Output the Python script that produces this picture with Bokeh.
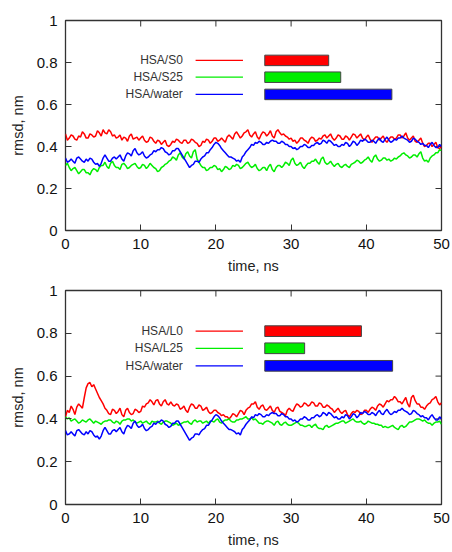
import math
from bokeh.plotting import figure
from bokeh.layouts import column
from bokeh.models import Range1d, FixedTicker, CustomJSTickFormatter
from bokeh.embed import file_html
from bokeh.resources import INLINE
from bokeh.core.properties import value

# ---------------- data (rmsd in nm, sampled every 0.25 ns) ----------------
time_step_ns = 0.25

rmsd_S0 = [
    .46, .43, .44, .455, .45, .435, .43, .45, .445, .47, .46, .44, .44, .46, .455, .445, .45, .475, .465, .45,
    .48, .465, .46, .48, .47, .45, .455, .44, .445, .455, .43, .445, .44, .425, .45, .46, .435, .44, .445, .43,
    .44, .45, .43, .42, .425, .445, .44, .425, .415, .43, .425, .41, .42, .43, .405, .40, .41, .425, .42, .435,
    .43, .42, .415, .43, .43, .415, .42, .435, .43, .42, .415, .40, .405, .425, .42, .435, .43, .415, .425, .44,
    .44, .425, .43, .44, .43, .42, .445, .455, .445, .435, .46, .47, .455, .44, .45, .465, .47, .48, .455, .445,
    .46, .47, .445, .435, .455, .47, .465, .45, .46, .475, .45, .44, .47, .48, .465, .455, .46, .45, .445, .435,
    .44, .425, .43, .415, .425, .44, .44, .43, .425, .415, .435, .445, .44, .425, .43, .44, .435, .45, .455, .44,
    .45, .46, .44, .43, .44, .455, .45, .435, .435, .45, .445, .43, .445, .46, .455, .44, .45, .46, .44, .43,
    .445, .455, .435, .42, .435, .445, .445, .43, .44, .45, .43, .42, .435, .445, .445, .435, .44, .455, .455, .44,
    .45, .465, .44, .43, .44, .45, .425, .42, .43, .44, .415, .40, .405, .415, .415, .40, .41, .42, .395, .39,
    .40]

rmsd_S25 = [
    .31, .32, .30, .285, .295, .30, .285, .27, .28, .29, .29, .275, .275, .265, .285, .295, .29, .28, .30, .31,
    .31, .325, .305, .295, .32, .33, .31, .30, .30, .29, .315, .32, .31, .295, .30, .31, .315, .32, .305, .295,
    .30, .315, .31, .295, .305, .32, .31, .30, .295, .28, .285, .30, .305, .315, .32, .33, .335, .35, .345, .335,
    .36, .37, .35, .34, .365, .375, .355, .345, .375, .385, .34, .325, .31, .30, .30, .285, .29, .30, .30, .31,
    .305, .29, .295, .28, .29, .305, .30, .29, .295, .31, .305, .315, .31, .295, .30, .31, .32, .325, .31, .30,
    .305, .315, .295, .285, .29, .30, .30, .285, .305, .315, .29, .28, .30, .31, .31, .30, .31, .325, .32, .31,
    .335, .345, .32, .31, .315, .325, .305, .295, .31, .32, .32, .33, .33, .34, .325, .315, .34, .35, .325, .315,
    .32, .33, .315, .305, .315, .32, .305, .30, .31, .315, .305, .30, .315, .32, .325, .335, .33, .32, .325, .335,
    .34, .35, .335, .325, .35, .36, .34, .33, .335, .345, .345, .335, .34, .33, .335, .345, .34, .35, .355, .365,
    .37, .36, .355, .345, .35, .36, .36, .35, .365, .375, .345, .33, .335, .325, .345, .355, .36, .37, .37, .385,
    .38]

rmsd_water = [
    .345, .325, .33, .34, .33, .32, .345, .35, .34, .33, .325, .34, .33, .345, .34, .325, .315, .32, .305, .32,
    .345, .36, .345, .33, .33, .345, .35, .34, .35, .36, .34, .33, .355, .37, .365, .355, .38, .39, .37, .36,
    .365, .375, .355, .345, .35, .36, .365, .38, .375, .385, .385, .395, .39, .375, .37, .36, .365, .38, .38, .39,
    .39, .375, .36, .345, .33, .315, .30, .31, .315, .33, .33, .325, .34, .35, .355, .37, .37, .385, .395, .41,
    .42, .415, .405, .39, .38, .37, .36, .35, .35, .345, .34, .33, .335, .325, .35, .36, .375, .385, .395, .41,
    .405, .42, .415, .425, .42, .41, .41, .42, .415, .425, .43, .425, .425, .415, .415, .425, .42, .41, .41, .40,
    .40, .39, .395, .385, .39, .40, .40, .41, .405, .395, .395, .405, .405, .415, .42, .41, .415, .43, .425, .415,
    .43, .425, .415, .405, .41, .40, .40, .41, .405, .42, .415, .40, .41, .425, .42, .405, .415, .43, .425, .435,
    .43, .42, .42, .43, .425, .415, .43, .44, .425, .42, .435, .445, .43, .42, .425, .435, .43, .44, .44, .45,
    .44, .435, .43, .42, .425, .44, .435, .425, .42, .41, .415, .405, .405, .395, .41, .42, .405, .395, .395, .41,
    .40]

rmsd_L0 = [
    .41, .44, .43, .46, .445, .42, .455, .47, .46, .45, .50, .545, .565, .57, .55, .56, .54, .52, .50, .485,
    .47, .45, .44, .425, .42, .445, .44, .425, .435, .45, .42, .41, .44, .45, .43, .42, .425, .445, .44, .43,
    .435, .46, .455, .47, .475, .49, .48, .465, .485, .49, .47, .46, .48, .49, .47, .465, .48, .465, .46, .47,
    .465, .445, .45, .46, .44, .43, .455, .47, .465, .45, .45, .465, .46, .44, .445, .455, .435, .425, .43, .44,
    .44, .43, .425, .415, .42, .41, .41, .40, .41, .425, .42, .41, .425, .44, .435, .42, .44, .45, .455, .47,
    .47, .48, .455, .445, .46, .465, .445, .44, .45, .46, .44, .43, .45, .455, .435, .43, .425, .415, .44, .45,
    .44, .435, .455, .47, .465, .455, .46, .475, .47, .46, .465, .48, .475, .46, .46, .475, .47, .455, .455, .465,
    .46, .45, .445, .43, .44, .45, .435, .425, .435, .44, .42, .41, .425, .435, .43, .44, .435, .42, .425, .44,
    .44, .43, .445, .455, .45, .44, .46, .47, .465, .455, .47, .485, .48, .49, .49, .505, .495, .48, .48, .47,
    .485, .50, .47, .455, .50, .51, .485, .47, .47, .455, .455, .445, .46, .47, .475, .49, .495, .505, .48, .465,
    .475]

rmsd_L25 = [
    .41, .40, .405, .39, .395, .40, .39, .38, .385, .395, .39, .385, .395, .40, .39, .38, .39, .385, .38, .375,
    .385, .39, .39, .395, .395, .385, .38, .39, .385, .375, .39, .395, .395, .40, .40, .39, .395, .385, .38, .385,
    .39, .38, .385, .39, .38, .375, .39, .385, .385, .39, .38, .375, .385, .39, .39, .385, .38, .37, .375, .38,
    .37, .375, .38, .385, .385, .39, .38, .375, .39, .395, .385, .39, .39, .38, .385, .39, .38, .39, .39, .385,
    .395, .40, .385, .38, .39, .395, .395, .40, .39, .385, .385, .395, .395, .40, .40, .405, .41, .40, .40, .405,
    .395, .40, .39, .38, .38, .375, .385, .39, .39, .385, .38, .37, .385, .39, .375, .37, .38, .385, .375, .37,
    .37, .375, .38, .385, .38, .37, .37, .365, .365, .37, .37, .36, .37, .375, .36, .355, .355, .35, .365, .37,
    .36, .365, .37, .375, .38, .38, .385, .39, .39, .38, .385, .39, .395, .40, .39, .385, .385, .39, .38, .375,
    .38, .39, .385, .38, .38, .375, .375, .37, .37, .36, .365, .36, .36, .365, .37, .36, .355, .35, .365, .37,
    .36, .365, .375, .385, .385, .39, .395, .40, .40, .395, .39, .395, .385, .38, .38, .37, .38, .385, .385, .39,
    .375]

panel1_labels = ["HSA/S0", "HSA/S25", "HSA/water"]
panel1_bar_ends = [35.0, 36.6, 43.4]
panel2_labels = ["HSA/L0", "HSA/L25", "HSA/water"]
panel2_bar_ends = [39.35, 31.8, 43.5]
series_colors = ["#ff0000", "#00ee00", "#0000ff"]
x_ticks = [0, 10, 20, 30, 40, 50]
y_ticks = [0, 0.2, 0.4, 0.6, 0.8, 1]
x_title = "time, ns"
y_title = "rmsd, nm"

# ---------------- layout / style constants ----------------
FONT = "Liberation Sans"
LEG_ROWS = [0.81, 0.73, 0.648]
LEG_TEXT_X = 15.6
LEG_LINE_X = (17.3, 23.6)
BAR_START = 26.5
BAR_HALF = 0.025
FRAME_COLOR = "#333333"


def make_panel(series_list, labels, bar_ends, height, border_top, border_bottom):
    p = figure(width=450, height=height, x_range=Range1d(0, 50), y_range=Range1d(0, 1),
               output_backend="svg", toolbar_location=None,
               min_border_left=65, min_border_right=9,
               min_border_top=border_top, min_border_bottom=border_bottom)
    p.xgrid.visible = False
    p.ygrid.visible = False
    p.outline_line_color = FRAME_COLOR
    p.outline_line_width = 1.3
    p.background_fill_color = "white"
    p.border_fill_color = "white"

    fmt = CustomJSTickFormatter(code="return String(Math.round(tick*10)/10);")
    for ax in (p.xaxis[0], p.yaxis[0]):
        ax.axis_line_color = None
        ax.major_tick_in = 6
        ax.major_tick_out = 0
        ax.major_tick_line_color = FRAME_COLOR
        ax.minor_tick_line_color = None
        ax.major_label_text_font = FONT
        ax.major_label_text_font_size = "15px"
        ax.major_label_text_color = "#111111"
        ax.major_label_standoff = 8
        ax.axis_label_text_font = FONT
        ax.axis_label_text_font_size = "14.5px"
        ax.axis_label_text_font_style = "normal"
        ax.axis_label_text_color = "#222222"
        ax.formatter = fmt
    p.xaxis[0].ticker = FixedTicker(ticks=x_ticks)
    p.yaxis[0].ticker = FixedTicker(ticks=y_ticks)
    p.xaxis[0].axis_label = x_title
    p.yaxis[0].axis_label = y_title
    p.xaxis[0].axis_label_standoff = 6
    p.yaxis[0].axis_label_standoff = 8

    # mirrored inward ticks on the top and right frame edges
    p.scatter(x=x_ticks, y=[p.y_range.end] * len(x_ticks), marker="dash",
              angle=math.pi / 2, size=12, line_color=FRAME_COLOR, line_width=1)
    p.scatter(x=[p.x_range.end] * len(y_ticks), y=y_ticks, marker="dash",
              size=12, line_color=FRAME_COLOR, line_width=1)

    t = [i * time_step_ns for i in range(len(series_list[0]))]
    for s, c in zip(series_list, series_colors):
        p.line(t, s, line_color=c, line_width=1.5)

    # key
    p.text(x=[LEG_TEXT_X] * 3, y=LEG_ROWS, text=labels, text_align="right",
           text_baseline="middle", text_font=value(FONT), text_font_size="12px",
           text_color="#333333")
    p.segment(x0=[LEG_LINE_X[0]] * 3, x1=[LEG_LINE_X[1]] * 3, y0=LEG_ROWS, y1=LEG_ROWS,
              line_color=series_colors, line_width=1.2)
    p.quad(left=[BAR_START] * 3, right=bar_ends,
           bottom=[r - BAR_HALF for r in LEG_ROWS], top=[r + BAR_HALF for r in LEG_ROWS],
           fill_color=series_colors, line_color="#444444", line_width=1)
    return p


p1 = make_panel([rmsd_S0, rmsd_S25, rmsd_water], panel1_labels, panel1_bar_ends, 276, 20, 42)
p2 = make_panel([rmsd_L0, rmsd_L25, rmsd_water], panel2_labels, panel2_bar_ends, 274, 14, 46)

layout = column(p1, p2, spacing=0)
open("out.html", "w").write(file_html(layout, INLINE))
